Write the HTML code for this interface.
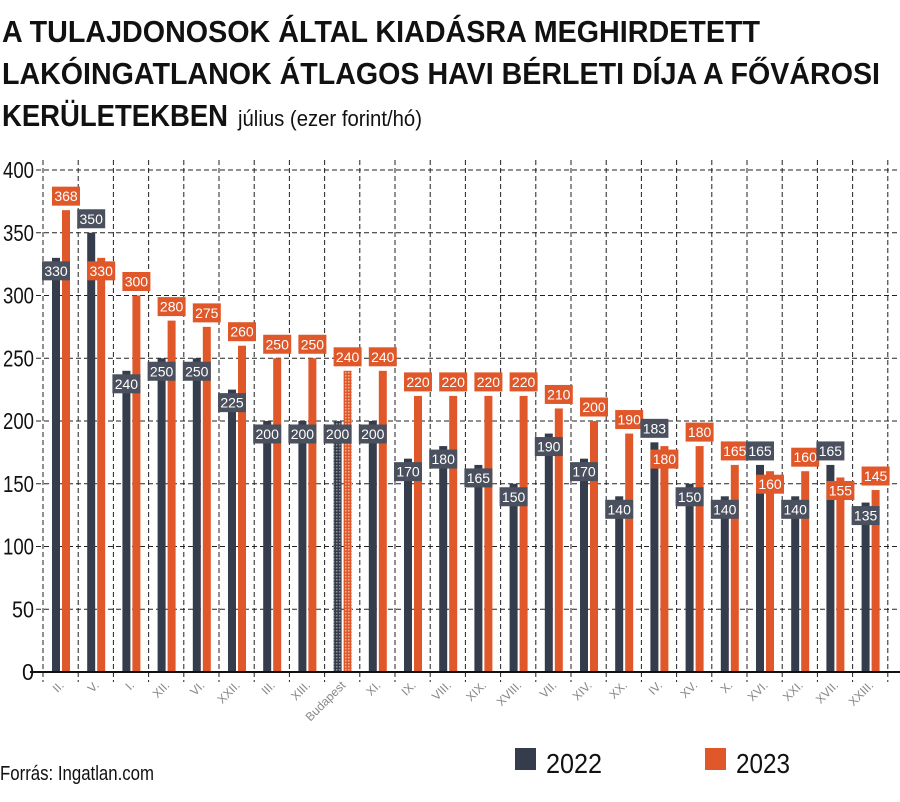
<!DOCTYPE html>
<html><head><meta charset="utf-8"><style>
body{margin:0;background:#fff;}
svg{display:block;font-family:"Liberation Sans",sans-serif;}
</style></head><body>
<svg id="s" width="900" height="802" viewBox="0 0 900 802" xmlns="http://www.w3.org/2000/svg">
<defs>
<pattern id="pd" width="3" height="3" patternUnits="userSpaceOnUse"><rect width="3" height="3" fill="#353c4b"/><rect width="1.5" height="1.5" fill="#8a8f99"/></pattern>
<pattern id="po" width="3" height="3" patternUnits="userSpaceOnUse"><rect width="3" height="3" fill="#e0572a"/><rect width="1.5" height="1.5" fill="#f3b49c"/></pattern>
</defs>
<text x="2" y="42" font-size="31" font-weight="bold" fill="#111" textLength="758" lengthAdjust="spacingAndGlyphs">A TULAJDONOSOK ÁLTAL KIADÁSRA MEGHIRDETETT</text>
<text x="2" y="84" font-size="31" font-weight="bold" fill="#111" textLength="878" lengthAdjust="spacingAndGlyphs">LAKÓINGATLANOK ÁTLAGOS HAVI BÉRLETI DÍJA A FŐVÁROSI</text>
<text x="2" y="126" font-size="31" font-weight="bold" fill="#111" textLength="226" lengthAdjust="spacingAndGlyphs">KERÜLETEKBEN</text>
<text x="238" y="126" font-size="22" fill="#111" textLength="184" lengthAdjust="spacingAndGlyphs">július (ezer forint/hó)</text>
<g id="g"></g>
<rect x="515" y="748" width="21" height="22" fill="#353c4b"/>
<text x="546" y="773" font-size="28" fill="#111" textLength="56" lengthAdjust="spacingAndGlyphs">2022</text>
<rect x="705" y="748" width="21" height="22" fill="#e0572a"/>
<text x="736" y="773" font-size="28" fill="#111" textLength="54" lengthAdjust="spacingAndGlyphs">2023</text>
<text x="0" y="780" font-size="20" fill="#111" textLength="154" lengthAdjust="spacingAndGlyphs">Forrás: Ingatlan.com</text>
</svg>
<script>
var cats=["II.","V.","I.","XII.","VI.","XXII.","III.","XIII.","Budapest","XI.","IX.","VIII.","XIX.","XVIII.","VII.","XIV.","XX.","IV.","XV.","X.","XVI.","XXI.","XVII.","XXIII."];
var d=[330,350,240,250,250,225,200,200,200,200,170,180,165,150,190,170,140,183,150,140,165,140,165,135];
var o=[368,330,300,280,275,260,250,250,240,240,220,220,220,220,210,200,190,180,180,165,160,160,155,145];
var dAbove={1:1,17:1,20:1,22:1};
var oBelow={1:1,17:1,20:1,22:1};
function Y(v){return 672-v*1.255;}
var h='';
for(var v=50;v<=400;v+=50){h+='<line x1="36" x2="900" y1="'+Y(v)+'" y2="'+Y(v)+'" stroke="#222" stroke-width="1" stroke-dasharray="5,3"/>';}
for(var v=0;v<=400;v+=50){var tl=v==0?12:(v<100?22:31);h+='<text x="34" y="'+(Y(v)+8)+'" font-size="23" text-anchor="end" fill="#111" textLength="'+tl+'" lengthAdjust="spacingAndGlyphs">'+v+'</text>';}
for(var i=0;i<=24;i++){var gx=43+35.2*i;h+='<line x1="'+gx+'" x2="'+gx+'" y1="160" y2="682" stroke="#222" stroke-width="1" stroke-dasharray="5,3"/>';}
var lab='';
for(var i=0;i<24;i++){
 var gx=43+35.2*i;
 var dx=gx+9,ox=gx+19;
 var b=cats[i]=="Budapest";
 h+='<rect x="'+dx+'" y="'+Y(d[i])+'" width="8" height="'+(d[i]*1.255)+'" fill="'+(b?'url(#pd)':'#353c4b')+'"/>';
 h+='<rect x="'+ox+'" y="'+Y(o[i])+'" width="8" height="'+(o[i]*1.255)+'" fill="'+(b?'url(#po)':'#e0572a')+'"/>';
 var dy=dAbove[i]?Y(d[i])-14:Y(d[i])+13;
 var oy=oBelow[i]?Y(o[i])+13:Y(o[i])-14;
 lab+=box(dx+4,dy,d[i],'#4a505e');
 lab+=box(ox+4,oy,o[i],'#e0572a');
 var cx=gx+17.6;
 h+='<text transform="translate('+(cx+4)+',686) rotate(-45)" font-size="12" fill="#888" text-anchor="end">'+cats[i]+'</text>';
}
function box(cx,cy,v,c){return '<rect x="'+(cx-14)+'" y="'+(cy-9.5)+'" width="28" height="19" fill="'+c+'"/><text x="'+cx+'" y="'+(cy+5)+'" font-size="14" fill="#fff" text-anchor="middle">'+v+'</text>';}
h+='<line x1="30" x2="900" y1="672" y2="672" stroke="#111" stroke-width="2"/>';
document.getElementById('g').innerHTML=h+lab;
</script>
</body></html>
